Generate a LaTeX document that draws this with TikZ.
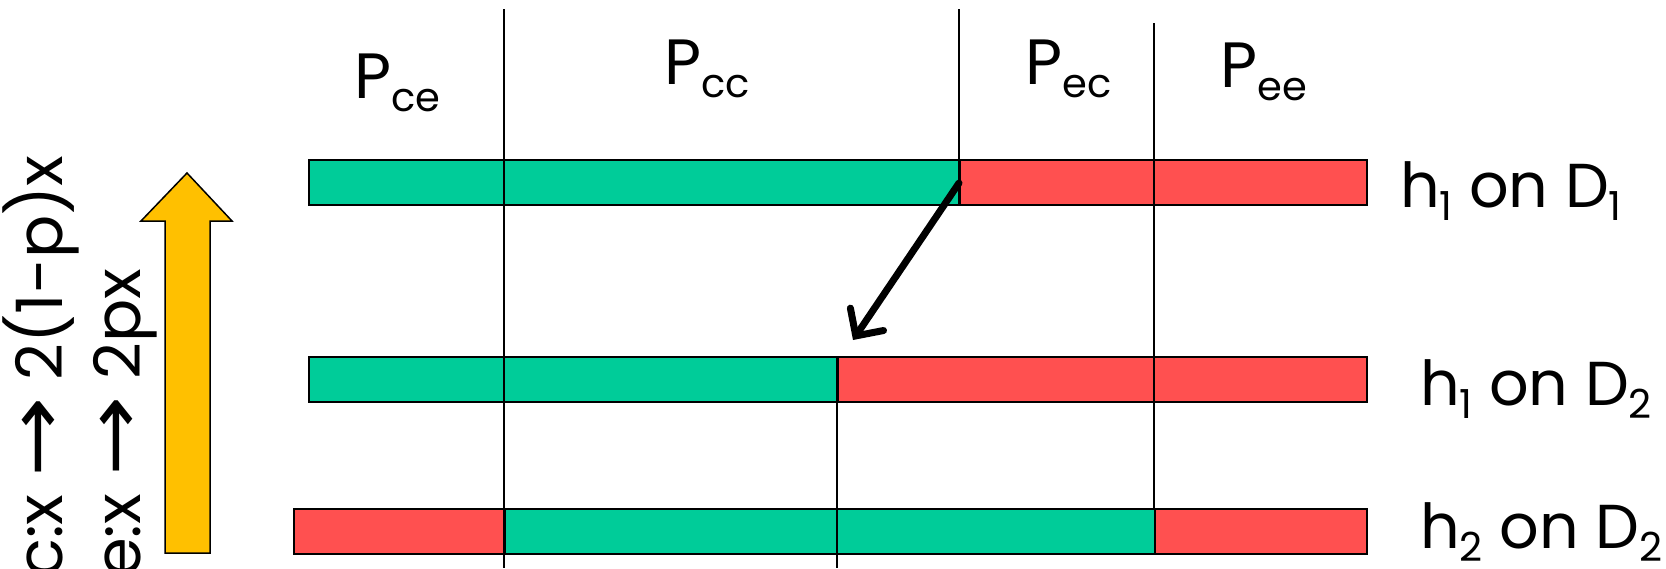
\documentclass[tikz,border=0pt]{standalone}
\usepackage{fontspec}
\setmainfont{Poppins}
\newfontfamily\symfont{DejaVu Sans}
\usetikzlibrary{arrows.meta}
\definecolor{cgreen}{HTML}{00CC99}
\definecolor{cred}{HTML}{FF5050}
\definecolor{cgold}{HTML}{FFC000}
\newcommand{\sbs}[1]{\raisebox{-13pt}{\fontsize{40}{40}\selectfont #1}}
\newcommand{\rarr}{{\symfont\scalebox{1.5}[1.2]{→}}}
\begin{document}
\begin{tikzpicture}[x=1pt,y=1pt,
  seg/.style={draw=black, line width=2pt, inner sep=0pt, minimum height=45pt, anchor=north west},
  vline/.style={draw=black, line width=1.5pt},
  lbl/.style={inner sep=0pt, font=\fontsize{64}{76}\selectfont, anchor=base west},
  rowlbl/.style={inner sep=0pt, font=\fontsize{62}{74}\selectfont, anchor=base west},
  side/.style={inner sep=0pt, font=\fontsize{64}{76}\selectfont, anchor=base west, rotate=90},
]
\useasboundingbox (0,-568) rectangle (1666,0);
\clip (0,-568) rectangle (1666,0);
% bar 1
\node[seg, fill=cgreen, minimum width=651pt] (b1g) at (308,-159) {};
\node[seg, fill=cred, minimum width=407pt] (b1r) at (959,-159) {};
% bar 2
\node[seg, fill=cgreen, minimum width=529pt] (b2g) at (308,-356) {};
\node[seg, fill=cred, minimum width=529pt] (b2r) at (837,-356) {};
% bar 3
\node[seg, fill=cred, minimum width=211pt] (b3a) at (293,-508) {};
\node[seg, fill=cgreen, minimum width=650pt] (b3b) at (504,-508) {};
\node[seg, fill=cred, minimum width=212pt] (b3c) at (1154,-508) {};
% vertical lines
\coordinate (v1t) at (504,-9);   \coordinate (v1b) at (504,-568);
\coordinate (v2t) at (959,-9);   \coordinate (v2b) at (959,-204);
\coordinate (v3t) at (1154,-23); \coordinate (v3b) at (1154,-508);
\coordinate (v4t) at (837,-356); \coordinate (v4b) at (837,-568);
\draw[vline] (v1t) -- (v1b);
\draw[vline] (v2t) -- (v2b);
\draw[vline] (v3t) -- (v3b);
\draw[vline] (v4t) -- (v4b);
% column labels
\node[lbl] (pce) at (354,-98) {P\sbs{ce}};
\node[lbl] (pcc) at (664,-84) {P\sbs{cc}};
\node[lbl] (pec) at (1025,-84) {P\sbs{ec}};
\node[lbl] (pee) at (1220,-87) {P\sbs{ee}};
% row labels
\node[rowlbl] (r1) at (1400,-207) {h\sbs{1} on D\sbs{1}};
\node[rowlbl] (r2) at (1420,-405) {h\sbs{1} on D\sbs{2}};
\node[rowlbl] (r3) at (1420,-548) {h\sbs{2} on D\sbs{2}};
% black arrow
\coordinate (astart) at (959,-183);
\coordinate (aend) at (853,-340);
\draw[line width=7pt, line cap=round, -{Straight Barb[length=20pt,width=40pt,line cap=round]}] (astart) -- (aend);
% yellow arrow
\draw[fill=cgold, draw=black, line width=1.5pt] (165,-553) -- (165,-221) -- (141,-221) -- (187,-173) -- (232,-221) -- (210,-221) -- (210,-553) -- cycle;
% side text
\node[side] (s1) at (62,-578) {c:x \rarr{} 2(1-p)x};
\node[side] (s2) at (140,-578) {e:x \rarr{} 2px};
\end{tikzpicture}
\end{document}
